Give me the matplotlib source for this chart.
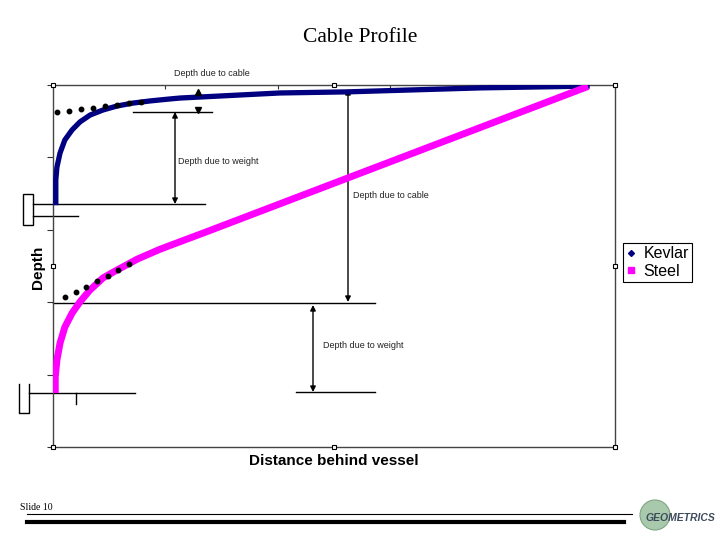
import matplotlib
matplotlib.use("Agg")
import matplotlib.pyplot as plt
from matplotlib.lines import Line2D
from matplotlib.patches import FancyArrowPatch, Rectangle, Circle
from matplotlib.transforms import Affine2D

# distance behind vessel (0-100) and depth (0-100, 0 at surface)
kevlar_x = [0.5, 0.5, 0.7, 1.25, 2.1, 3.4, 4.8, 6.6, 8.9, 11.4, 14.2, 17.3, 20.5, 22.6,
            40.4, 52.3, 76.0, 95.5]
kevlar_y = [33.2, 26.2, 22.7, 18.8, 15.2, 12.4, 10.2, 8.3, 6.9, 5.8, 5.0, 4.4, 3.9, 3.6,
            2.2, 1.9, 0.8, 0.3]
kevlar_dot_x = [0.7, 2.85, 5.0, 7.1, 9.25, 11.4, 13.5, 15.7]
kevlar_dot_y = [7.5, 7.2, 6.6, 6.35, 5.8, 5.5, 5.0, 4.7]

steel_x = [0.4, 0.4, 0.7, 1.25, 2.1, 3.4, 4.8, 6.6, 8.9, 11.4, 15.0, 19.0, 23.1, 27.4, 95.2]
steel_y = [85.1, 80.7, 76.0, 71.3, 66.9, 63.0, 59.9, 56.6, 53.3, 51.1, 48.1, 45.4, 43.0,
           40.5, 0.4]
steel_dot_x = [2.1, 4.1, 5.9, 7.8, 9.8, 11.6, 13.5]
steel_dot_y = [58.6, 57.2, 55.8, 54.1, 52.8, 51.1, 49.4]

x_ticks = [0, 20, 40, 60, 80, 100]
y_ticks = [0, 20, 40, 60, 80, 100]

NAVY = '#000080'
MAGENTA = '#ff00ff'
SANS = ['Liberation Sans', 'DejaVu Sans']

fig = plt.figure(figsize=(7.2, 5.4), dpi=100)
# pixel coordinates, origin top-left
pix = Affine2D().scale(1 / 720, -1 / 540).translate(0, 1) + fig.transFigure

ax = fig.add_axes([53 / 720, 1 - 447 / 540, 562 / 720, 362 / 540])
ax.set_xlim(0, 100)
ax.set_ylim(100, 0)

ax.plot(kevlar_x, kevlar_y, color=NAVY, lw=3.8, solid_capstyle='butt',
        solid_joinstyle='round', zorder=3)
ax.plot(steel_x, steel_y, color=MAGENTA, lw=5, solid_capstyle='butt',
        solid_joinstyle='round', zorder=3)
ax.plot(kevlar_dot_x, kevlar_dot_y, 'o', color='black', ms=3.2, zorder=4)
ax.plot(steel_dot_x, steel_dot_y, 'o', color='black', ms=3.2, zorder=4)

ax.xaxis.tick_top()
ax.set_xticks(x_ticks)
ax.set_yticks(y_ticks)
ax.tick_params(axis='x', direction='in', length=3, labeltop=False, color='#333333')
ax.tick_params(axis='y', direction='out', length=4, labelleft=False, color='#333333')
for sp in ax.spines.values():
    sp.set_linestyle((0, (1, 1)))
    sp.set_color('#444444')
    sp.set_linewidth(1)

# selection handles
for hx, hy in [(0, 0), (0.5, 0), (1, 0), (0, 0.5), (1, 0.5), (0, 1), (0.5, 1), (1, 1)]:
    ax.plot(hx, hy, 's', ms=3, mfc='white', mec='black', mew=0.8,
            transform=ax.transAxes, clip_on=False, zorder=6)


def hline(x0, x1, y, lw=1.0):
    ax.plot([x0, x1], [y, y], color='black', lw=lw, transform=pix, clip_on=False, zorder=2)


def arrow(y0, y1, x, style='<|-|>'):
    ax.add_patch(FancyArrowPatch((x, y0), (x, y1), arrowstyle=style, mutation_scale=8,
                                 color='black', lw=1, shrinkA=0, shrinkB=0,
                                 transform=pix, clip_on=False, zorder=2))


def note(x, y, s, ha='left'):
    ax.text(x, y, s, transform=pix, ha=ha, va='center', fontsize=6.5,
            family=SANS, color='#222222', clip_on=False)


# kevlar annotations
note(212, 73, 'Depth due to cable', ha='center')
ax.plot([198], [91.5], '^', color='black', ms=4.5, transform=pix, clip_on=False, zorder=5)
ax.plot([198], [109.5], 'v', color='black', ms=4.5, transform=pix, clip_on=False, zorder=5)
hline(133, 212, 112)
arrow(112, 204, 175)
note(178, 162, 'Depth due to weight')
hline(33, 205, 204)
hline(33, 78, 216)
ax.add_patch(Rectangle((23, 194), 10, 31, fill=False, ec='black', lw=1,
                       transform=pix, clip_on=False))

# steel annotations
arrow(89, 302, 348)
note(353, 195, 'Depth due to cable')
hline(53, 375, 303)
arrow(305, 392, 313)
note(323, 345, 'Depth due to weight')
hline(296, 375, 392)
hline(29, 135, 393)
ax.plot([76, 76], [393, 404], color='black', lw=1, transform=pix, clip_on=False)
ax.plot([29, 29, 19, 19], [384, 413, 413, 384], color='black', lw=1,
        transform=pix, clip_on=False)

# titles
fig.text(360 / 720, 1 - 38 / 540, 'Cable Profile', ha='center', va='center',
         fontsize=15.5, family=['Liberation Serif', 'DejaVu Serif'])
fig.text(334 / 720, 1 - 461 / 540, 'Distance behind vessel', ha='center', va='center',
         fontsize=11, fontweight='bold', family=SANS)
fig.text(38 / 720, 1 - 267 / 540, 'Depth', rotation=90, ha='center', va='center',
         fontsize=11, fontweight='bold', family=SANS)

# legend
handles = [Line2D([], [], ls='none', marker='D', ms=3, color=NAVY),
           Line2D([], [], ls='none', marker='s', ms=4, color=MAGENTA)]
leg = fig.legend(handles, ['Kevlar', 'Steel'], loc='upper left',
                 bbox_to_anchor=(623 / 720, 1 - 243 / 540), frameon=True, fancybox=False,
                 edgecolor='black', framealpha=1, handlelength=0.6, handletextpad=0.5,
                 borderpad=0.2, labelspacing=0.15, borderaxespad=0,
                 prop={'family': SANS, 'size': 11.5})
leg.get_frame().set_linewidth(0.8)

# footer
fig.text(20 / 720, 1 - 508 / 540, 'Slide 10', ha='left', va='center', fontsize=7,
         family=['Liberation Serif', 'DejaVu Serif'])
fig.add_artist(Line2D([27, 632], [514, 514], color='black', lw=0.8, transform=pix))
fig.add_artist(Line2D([27, 624], [522, 522], color='black', lw=3, transform=pix))
fig.add_artist(Circle((655, 515), 15, fc='#a9c9ad', ec='#7fa585', lw=0.8, transform=pix))
fig.text(680 / 720, 1 - 518 / 540, 'GEOMETRICS', ha='center', va='center', fontsize=7.5,
         fontstyle='italic', fontweight='bold', color='#3d4a5c', family=SANS)

fig.savefig('out.png', dpi=100)
